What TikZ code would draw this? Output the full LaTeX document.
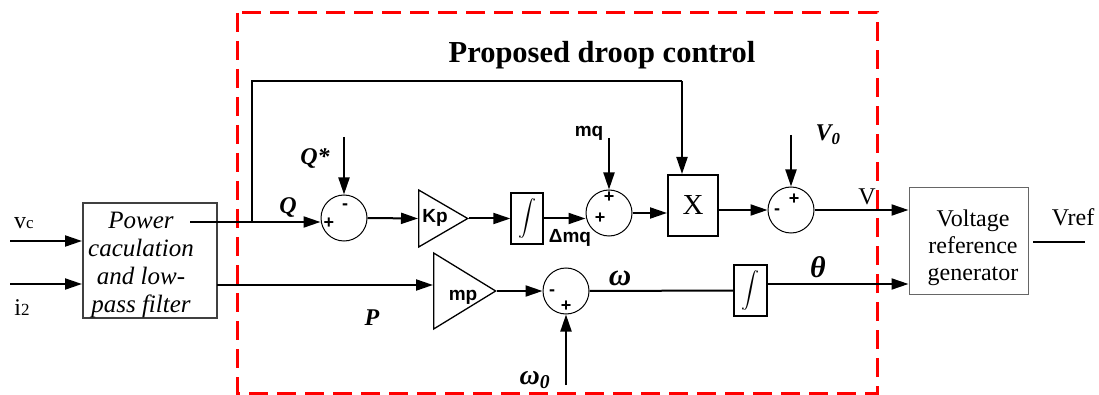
\documentclass[tikz,border=0pt]{standalone}
\usepackage{fontspec}
\setmainfont{Liberation Serif}
\setsansfont{Liberation Sans}
\usetikzlibrary{arrows.meta}
\usetikzlibrary{shapes.geometric}

\begin{document}
\begin{tikzpicture}
		[x=1pt,y=-1pt,
		sig/.style={line width=2pt},
		arr/.style={line width=2pt,-{Triangle[length=17pt,width=11pt]}},
		sum/.style={circle,draw,line width=1pt,minimum size=46pt,inner sep=0pt},
		intg/.style={rectangle,draw,line width=1.3pt,minimum width=32pt,minimum height=51pt,inner sep=0pt},
		amp/.style={isosceles triangle,isosceles triangle stretches,draw,line width=1.3pt,inner sep=0pt,anchor=west},
		sgn/.style={font=\fontsize{18}{18}\selectfont\sffamily\bfseries,inner sep=0pt},
		var/.style={font=\fontsize{24}{24}\selectfont\bfseries\itshape,inner sep=0pt},
		lbl/.style={font=\fontsize{19}{19}\selectfont\sffamily\bfseries,inner sep=0pt},
		txt/.style={font=\fontsize{24}{27}\selectfont,inner sep=0pt,align=center}]
		\useasboundingbox (0,0) rectangle (1099,395);
		\draw [red,line width=3pt,dash pattern=on 19pt off 9pt] (237,13) rectangle (877,393);
		\node [font=\fontsize{30.5}{30}\selectfont\bfseries,anchor=base] (title) at (602,63) {Proposed droop control};
		\node [draw=black!75,line width=2pt,minimum width=134pt,minimum height=115pt] (pwr) at (150,260.5) {};
		\node [txt,font=\fontsize{25}{28}\selectfont\itshape] (pwrt) at (141,265) {Power\\caculation\\and low-\\pass filter};
		\node [sum] (s1) at (344,218) {};
		\node [sum] (s2) at (609,213) {};
		\node [sum] (s3) at (791,210) {};
		\node [sum] (s4) at (566,291) {};
		\node [amp,minimum height=49pt,minimum width=57pt] (kp) at (418,218.5) {};
		\node [amp,minimum height=62pt,minimum width=76pt] (mp) at (433,291) {};
		\node [intg] (int1) at (527,218.5) {\scalebox{1.8}{$\displaystyle\int$}};
		\node [intg,minimum width=33pt] (int2) at (750.5,290.5) {\scalebox{1.8}{$\displaystyle\int$}};
		\node [draw,line width=2pt,minimum width=50pt,minimum height=61pt,font=\fontsize{29}{29}\selectfont] (xb) at (693,205.5) {X};
		\node [draw=black!60,line width=1pt,minimum width=119pt,minimum height=106pt] (vb) at (968.5,241) {};
		\node [txt] (vbt) at (973,248) {Voltage\\reference\\generator};
		\coordinate (vcin) at (10,241);
		\coordinate (iin) at (10,284);
		\coordinate (qout) at (190,222);
		\coordinate (pout) at (217,285);
		\coordinate (fb) at (252,222);
		\coordinate (fbt) at (682,81);
		\coordinate (qs) at (344,137);
		\coordinate (mqs) at (609,138);
		\coordinate (v0s) at (791,135);
		\coordinate (w0s) at (566,385);
		\coordinate (th) at (767,284);
		\coordinate (vrefa) at (1033,242);
		\coordinate (vref) at (1085,242);
		\draw [arr] (vcin) -- (vcin -| pwr.west) ;
		\draw [arr] (iin) -- (iin -| pwr.west) ;
		\draw [arr] (qout) -- (qout -| s1.west) ;
		\draw [sig] (fb) |- (fbt) ;
		\draw [arr] (fbt) -- (fbt |- xb.north) ;
		\draw [arr] (qs) -- (s1.north) ;
		\draw [arr] (s1.east) -- (kp.west) ;
		\draw [arr] (kp.apex) -- (int1.west) ;
		\draw [arr] (int1.east) -- (int1.east -| s2.west) ;
		\draw [arr] (mqs) -- (s2.north) ;
		\draw [arr] (s2.east) -- (s2.east -| xb.west) ;
		\draw [arr] (xb.east |- s3.west) -- (s3.west) ;
		\draw [arr] (v0s) -- (s3.north) ;
		\draw [arr] (s3.east) -- (s3.east -| vb.west) ;
		\draw [sig] (vrefa) -- (vref) ;
		\draw [arr] (pout) -- (pout -| mp.west) ;
		\draw [arr] (mp.apex) -- (s4.west) ;
		\draw [arr] (w0s) -- (s4.south) ;
		\draw [sig] (s4.east) -- (int2.west) ;
		\draw [arr] (th) -- (th -| vb.west) ;
		\node [txt] (vcl) at (24,223) {v{\fontsize{17}{17}\selectfont c}};
		\node [txt] (il) at (22,308) {i{\fontsize{17}{17}\selectfont 2}};
		\node [var] (ql) at (288,208) {Q};
		\node [var] (qsl) at (315,158) {Q*};
		\node [var] (pl) at (372,318) {P};
		\node [var] (v0l) at (828,135) {V\textsubscript{0}};
		\node [var,font=\fontsize{31}{31}\selectfont\bfseries\itshape] (wl) at (620,278) {ω};
		\node [var,font=\fontsize{30}{30}\selectfont\bfseries\itshape] (thl) at (818,267) {θ};
		\node [var,font=\fontsize{28}{28}\selectfont\bfseries\itshape] (w0l) at (535,380) {ω\textsubscript{0}};
		\node [lbl] (mql) at (589,133) {mq};
		\node [lbl] (dmq) at (570,238) {Δmq};
		\node [lbl] (kpl) at (435,218) {Kp};
		\node [lbl] (mpl) at (463,297) {mp};
		\node [txt] (vl) at (867,197) {V};
		\node [txt] (vrl) at (1073,217) {Vref};
		\node [sgn] (s1a) at (345,207) {-};
		\node [sgn] (s1b) at (329,223) {+};
		\node [sgn] (s2a) at (609,197) {+};
		\node [sgn] (s2b) at (600,218) {+};
		\node [sgn] (s3a) at (777,212) {-};
		\node [sgn] (s3b) at (794,199) {+};
		\node [sgn] (s4a) at (552,293) {-};
		\node [sgn] (s4b) at (566,306) {+};
	\end{tikzpicture}
\end{document}
